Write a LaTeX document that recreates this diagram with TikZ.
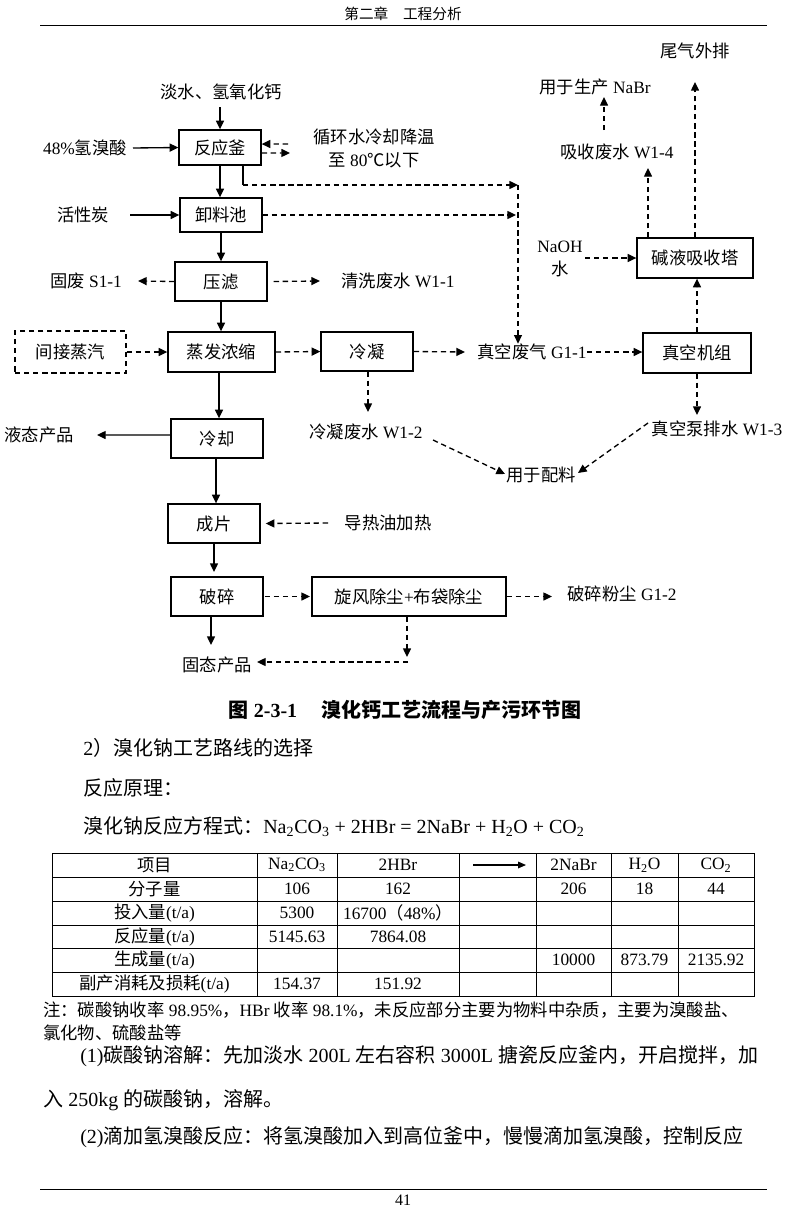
\documentclass[tikz,border=0pt]{standalone}
\usepackage{fontspec}
\setmainfont{Liberation Serif}
\newfontfamily\cjkf{Noto Sans CJK SC}
\newfontfamily\latf{Liberation Serif}
\usetikzlibrary{arrows.meta}
\XeTeXinterchartokenstate=1
\newcount\mycnt
\def\setcls#1#2{\mycnt=#1\relax\loop\XeTeXcharclass\mycnt=10\relax\ifnum\mycnt<#2\relax\advance\mycnt by 1\relax\repeat}
\setcls{"4E00}{"9FFF}
\setcls{"3000}{"303F}
\setcls{"FF00}{"FFEF}
\XeTeXcharclass"2103=10
\XeTeXinterchartoks 0 10 = {\cjkf}
\XeTeXinterchartoks 4095 10 = {\cjkf}
\XeTeXinterchartoks 10 0 = {\latf}
\XeTeXinterchartoks 10 4095 = {\latf}
\newcommand\dgfont{\fontsize{13}{17.25}\selectfont}
\newcommand\bdfont{\fontsize{15}{18}\selectfont}
\newcommand\tbfont{\fontsize{13}{16}\selectfont}
\newcommand\cpfont{\fontsize{15}{18}\selectfont}
\newcommand\hdfont{\fontsize{11}{13}\selectfont}
\newcommand\pnfont{\fontsize{12}{14}\selectfont}
\begin{document}
\begin{tikzpicture}[x=0.75pt,y=-0.75pt,
  box/.style={draw,line width=1pt,inner sep=0pt,font=\dgfont},
  wh/.style 2 args={minimum width=#1*0.75pt,minimum height=#2*0.75pt},
  lbl/.style={inner sep=0pt,font=\dgfont},
  arr/.style={line width=1pt,-{Triangle[length=6.5pt,width=6pt]}},
  dl/.style={dash pattern=on 4pt off 2.8pt},
  darr/.style={arr,dl},
  body/.style={inner sep=0pt,anchor=west,font=\bdfont},
  tcell/.style={inner sep=0pt,font=\tbfont}]
\fill[white] (0,0) rectangle (800,1213);
\useasboundingbox (0,0) rectangle (800,1213);
% header
\node[inner sep=0pt,font=\hdfont] (hdr) at (403,14) {第二章\hspace{1em}工程分析};
\draw[line width=0.7pt] (40,25) -- (767,25);
% diagram nodes
\node[lbl] (tin) at (221,92) {淡水、氢氧化钙};
\node[box,wh={82}{35}] (fyf) at (220,147.5) {反应釜};
\node[lbl] (hbr) at (85,148) {48\%氢溴酸};
\node[lbl,align=center] (xhs) at (374,148.5) {循环水冷却降温\\至 80℃以下};
\node[box,wh={82}{34}] (xlc) at (221,215) {卸料池};
\node[lbl] (hxt) at (83,215) {活性炭};
\node[box,wh={92}{39}] (yl) at (221,281.5) {压滤};
\node[lbl] (gf) at (86,281) {固废 S1-1};
\node[lbl] (qx) at (398,281) {清洗废水 W1-1};
\node[box,dl,line width=0.85pt,wh={111}{42}] (jj) at (70.5,352) {间接蒸汽};
\node[box,wh={107}{40}] (zf) at (221.5,352) {蒸发浓缩};
\node[box,wh={92}{39}] (ln) at (367,351.5) {冷凝};
\node[lbl] (zkfq) at (532,352) {真空废气 G1-1};
\node[box,wh={108}{40}] (zkjz) at (697,353) {真空机组};
\node[box,wh={116}{40}] (jy) at (695,258) {碱液吸收塔};
\node[lbl,align=center] (naoh) at (560,259) {NaOH\\水};
\node[lbl] (xsfs) at (617,152) {吸收废水 W1-4};
\node[lbl] (nabr) at (595,87) {用于生产 NaBr};
\node[lbl] (wq) at (695,51) {尾气外排};
\node[box,wh={92}{39}] (lq) at (217,438.5) {冷却};
\node[lbl] (ytcp) at (39,435) {液态产品};
\node[lbl] (lnfs) at (366,432) {冷凝废水 W1-2};
\node[lbl] (zkb) at (717,429) {真空泵排水 W1-3};
\node[lbl] (pl) at (541,475) {用于配料};
\node[box,wh={92}{39}] (cp) at (214,523.5) {成片};
\node[lbl] (drl) at (388,523) {导热油加热};
\node[box,wh={92}{39}] (ps) at (217,596.5) {破碎};
\node[box,wh={194}{39}] (xf) at (409,596.5) {旋风除尘+布袋除尘};
\node[lbl] (pfc) at (622,594) {破碎粉尘 G1-2};
\node[lbl] (gtcp) at (217,665) {固态产品};
% free ends
\coordinate (c1) at (220,107);
\coordinate (c2) at (133,148);
\coordinate (c3a) at (288,144);
\coordinate (c3b) at (290,153);
\coordinate (c4a) at (243,185);
\coordinate (c4b) at (518,185);
\coordinate (c5) at (130,215);
\coordinate (c6) at (138,281);
\coordinate (c7) at (320,281);
\coordinate (c8) at (465,352);
\coordinate (c9) at (648,168);
\coordinate (c10a) at (604,130);
\coordinate (c10b) at (604,97);
\coordinate (c11) at (695,82);
\coordinate (c12) at (585,258);
\coordinate (v1) at (219,400);
\coordinate (c14) at (97,435);
\coordinate (c15) at (368,412);
\coordinate (c16) at (697,415);
\coordinate (c17a) at (433,440);
\coordinate (c17b) at (505,474);
\coordinate (c18a) at (648,423);
\coordinate (c18b) at (578,473);
\coordinate (v2) at (216,480);
\coordinate (c19) at (328,523);
\coordinate (c20) at (214,572);
\coordinate (c21) at (310,596.5);
\coordinate (c22) at (552,596.5);
\coordinate (c23) at (211,645);
\coordinate (c24) at (407,657);
\coordinate (c25) at (408,662);
\coordinate (c26) at (257,662);
% connectors
\draw[arr] (c1) -- (fyf.north);
\draw[arr] (c2) -- (fyf.west);
\draw[darr] (c3a) -- ([yshift=2.6pt]fyf.east);
\draw[darr] ([yshift=-4.1pt]fyf.east) -- (c3b);
\draw[line width=1pt] (fyf.south -| c4a) -- (c4a);
\draw[darr] (c4a) -- (c4b);
\draw[darr] (c4b) -- (c4b |- zkfq.north);
\draw[darr,shorten >=1.5pt] (xlc.east) -- (xlc.east -| c4b);
\draw[arr] (fyf.south) -- (fyf.south |- xlc.north);
\draw[arr] (c5) -- (xlc.west);
\draw[arr] (xlc.south) -- (xlc.south |- yl.north);
\draw[darr] (yl.west) -- (c6);
\draw[darr] ([xshift=4.5pt]yl.east) -- (c7);
\draw[arr] (yl.south) -- (yl.south |- zf.north);
\draw[darr] (jj.east) -- (zf.west);
\draw[darr] (zf.east) -- (ln.west);
\draw[darr] (ln.east) -- (c8);
\draw[darr] (zkfq.east) -- (zkfq.east -| zkjz.west);
\draw[darr] (zkjz.north) -- (zkjz.north |- jy.south);
\draw[darr] (jy.north -| c9) -- (c9);
\draw[darr] (c10a) -- (c10b);
\draw[darr] (jy.north) -- (c11);
\draw[darr] (c12) -- (jy.west);
\draw[arr] (zf.south -| v1) -- (lq.north -| v1);
\draw[arr] ([yshift=2.6pt]lq.west) -- (c14);
\draw[darr] (ln.south -| c15) -- (c15);
\draw[darr] (zkjz.south) -- (c16);
\draw[darr] (c17a) -- (c17b);
\draw[darr] (c18a) -- (c18b);
\draw[arr] (lq.south -| v2) -- (cp.north -| v2);
\draw[darr] (c19) -- ([xshift=3.75pt]cp.east);
\draw[arr] (cp.south) -- (c20);
\draw[darr] ([xshift=0.75pt]ps.east) -- (c21);
\draw[darr] (xf.east) -- (c22);
\draw[arr] (ps.south -| c23) -- (c23);
\draw[darr] (xf.south -| c24) -- (c24);
\draw[darr] (c25) -- (c26);
% caption
\node[inner sep=0pt,font=\cpfont] (cap) at (405,710) {\bfseries 图 2-3-1\hspace{1.2em}溴化钙工艺流程与产污环节图};
% body
\node[body] (p1) at (83,748) {2）溴化钠工艺路线的选择};
\node[body] (p2) at (83,788) {反应原理：};
\node[body] (p3) at (83,827) {溴化钠反应方程式：Na\textsubscript{2}CO\textsubscript{3} + 2HBr = 2NaBr + H\textsubscript{2}O + CO\textsubscript{2}};
% table
\draw[line width=0.6pt] (52,853) rectangle (754,996);
\foreach \xx in {257,337,459,536,611,678} \draw[line width=0.6pt] (\xx,853) -- (\xx,996);
\foreach \yy in {877,901,925,948,972} \draw[line width=0.6pt] (52,\yy) -- (754,\yy);
\node[tcell] (t11) at (154.5,865) {项目};
\node[tcell] (t12) at (297,865) {Na\textsubscript{2}CO\textsubscript{3}};
\node[tcell] (t13) at (398,865) {2HBr};
\node[tcell] (t15) at (573.5,865) {2NaBr};
\node[tcell] (t16) at (644.5,865) {H\textsubscript{2}O};
\node[tcell] (t17) at (716,865) {CO\textsubscript{2}};
\coordinate (ta1) at (473,865);
\coordinate (ta2) at (526,865);
\draw[line width=0.9pt,-{Triangle[length=6pt,width=5pt]}] (ta1) -- (ta2);
\node[tcell] (t21) at (154.5,889) {分子量};
\node[tcell] (t22) at (297,889) {106};
\node[tcell] (t23) at (398,889) {162};
\node[tcell] (t25) at (573.5,889) {206};
\node[tcell] (t26) at (644.5,889) {18};
\node[tcell] (t27) at (716,889) {44};
\node[tcell] (t31) at (154.5,913) {投入量(t/a)};
\node[tcell] (t32) at (297,913) {5300};
\node[tcell] (t33) at (398,913) {16700（48\%）};
\node[tcell] (t41) at (154.5,936.5) {反应量(t/a)};
\node[tcell] (t42) at (297,936.5) {5145.63};
\node[tcell] (t43) at (398,936.5) {7864.08};
\node[tcell] (t51) at (154.5,960) {生成量(t/a)};
\node[tcell] (t55) at (573.5,960) {10000};
\node[tcell] (t56) at (644.5,960) {873.79};
\node[tcell] (t57) at (716,960) {2135.92};
\node[tcell] (t61) at (154.5,984) {副产消耗及损耗(t/a)};
\node[tcell] (t62) at (297,984) {154.37};
\node[tcell] (t63) at (398,984) {151.92};
% notes and text
\node[body,font=\tbfont] (n1) at (43,1010) {注：碳酸钠收率 98.95\%，HBr 收率 98.1\%，未反应部分主要为物料中杂质，主要为溴酸盐、};
\node[body,font=\tbfont] (n2) at (43,1033) {氯化物、硫酸盐等};
\node[body] (p4) at (80,1056) {(1)碳酸钠溶解：先加淡水 200L 左右容积 3000L 搪瓷反应釜内，开启搅拌，加};
\node[body] (p5) at (43,1100) {入 250kg 的碳酸钠，溶解。};
\node[body] (p6) at (80,1137) {(2)滴加氢溴酸反应：将氢溴酸加入到高位釜中，慢慢滴加氢溴酸，控制反应};
\draw[line width=0.7pt] (40,1189) -- (767,1189);
\node[inner sep=0pt,font=\pnfont] (pg) at (403,1200) {41};
\end{tikzpicture}
\end{document}
